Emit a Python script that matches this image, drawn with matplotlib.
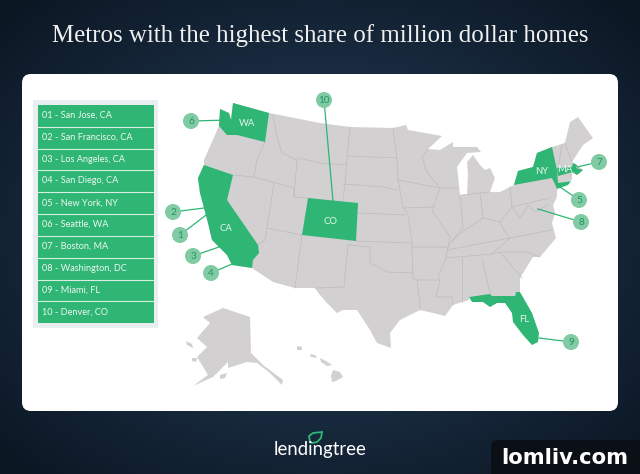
import numpy as np
import matplotlib
matplotlib.use('Agg')
import matplotlib.pyplot as plt
from matplotlib.patches import FancyBboxPatch, Rectangle, Circle

TITLE = 'Metros with the highest share of million dollar homes'
metros = ['01 - San Jose, CA', '02 - San Francisco, CA', '03 - Los Angeles, CA', '04 - San Diego, CA',
          '05 - New York, NY', '06 - Seattle, WA', '07 - Boston, MA', '08 - Washington, DC',
          '09 - Miami, FL', '10 - Denver, CO']

# map outlines (image pixels)
us_outline = [(220,109),(229,113),(231,120),(233,103),(269,113),(320,123),(350,127),(393,128),(406,125),
              (408,130),(442,136),(428,149),(440,150),(453,142),(453,147),(477,147),(481,152),(467,153),(457,167),
              (460,195),(467,195),(468,173),(467,162),(473,155),(480,165),(485,170),(490,168),(495,178),(490,192),
              (500,192),(514,185),(518,171),(533,167),(537,153),(552,147),(565,143),(570,122),(578,117),(585,127),
              (593,138),(583,145),(572,162),(577,165),(583,170),(577,175),(572,173),(572,180),(560,183),(557,188),
              (557,197),(553,205),(555,213),(552,223),(556,238),(540,257),(533,257),(520,278),(520,292),(516,292),
              (515,296),(492,296),(469,297),(469,300),(462,302),(453,305),(445,316),(433,313),(420,310),(400,320),
              (390,333),(391,348),(377,343),(370,330),(357,310),(343,310),(337,313),(327,303),(320,295),(315,288),
              (295,288),(273,282),(252,268),(232,265),(227,255),(212,240),(208,223),(200,193),(198,178),(204,165),
              (204,160),(219,126)]
alaska = [(223,308),(250,317),(251,353),(263,365),(283,380),(282,385),(270,373),(257,363),(247,362),(228,368),
          (228,362),(213,377),(193,386),(208,375),(197,357),(207,347),(197,338),(210,323),(203,317)]
ak_islands = [[(186,341),(192,344),(193,348),(187,345)], [(192,358),(197,358),(196,362),(192,361)],
              [(220,375),(227,373),(225,378),(220,379)]]
hawaii = [[(297,346),(302,347),(302,350),(297,350)], [(310,354),(315,355),(317,358),(311,357)],
          [(320,358),(326,361),(332,365),(327,366),(321,362)], [(333,370),(340,372),(343,377),(336,381),(332,382),(331,376)]]

state_borders = [
    [(273,115),(277,137),(282,153),(297,160),(294,197)],
    [(298,158),(320,163),(347,165)],
    [(265,142),(257,160),(254,177)],
    [(233,175),(254,177),(294,188)],
    [(274,183),(267,228),(265,240),(258,245)],
    [(267,228),(302,235),(295,288)],
    [(294,188),(294,197),(308,198)],
    [(350,127),(347,157),(345,183),(343,201)],
    [(347,156),(397,158)],
    [(343,184),(383,187),(397,190)],
    [(358,213),(405,215)],
    [(393,128),(397,158),(398,180),(403,207),(408,215),(412,243),(412,247),(413,278),(417,280),(420,303),(420,310)],
    [(356,241),(412,243)],
    [(348,245),(344,287),(315,288)],
    [(348,245),(370,247),(370,263),(387,272),(413,273)],
    [(417,280),(440,280),(436,297),(452,297),(453,305)],
    [(448,247),(446,258),(438,277),(440,280)],
    [(403,208),(435,207)],
    [(433,212),(450,237),(448,247),(412,247)],
    [(398,180),(440,188),(433,207),(433,212)],
    [(428,149),(422,157),(427,172),(440,188),(458,188)],
    [(460,195),(463,227),(453,240),(448,247)],
    [(462,195),(480,193),(490,192)],
    [(480,193),(483,218)],
    [(510,187),(512,207),(500,222),(497,221),(483,218),(462,232),(453,240)],
    [(447,250),(510,238),(552,230)],
    [(512,207),(550,198)],
    [(500,222),(505,232),(510,238)],
    [(512,207),(520,218),(528,205),(535,212),(548,205)],
    [(446,258),(492,254),(510,238)],
    [(492,254),(500,252),(527,252),(540,257)],
    [(500,252),(522,278)],
    [(462,258),(462,302)],
    [(482,258),(490,293)],
    [(552,178),(557,188)],
    [(562,145),(558,168)],
    [(565,143),(572,162)],
]

green_states = {
    'WA': [(220,109),(229,113),(231,120),(233,103),(269,113),(265,142),(237,135),(227,135),(219,126)],
    'CA': [(204,165),(233,175),(227,200),(258,245),(259,253),(253,260),(252,268),(232,265),(227,255),(212,240),
           (208,223),(200,193),(198,178)],
    'CO': [(308,198),(358,203),(356,241),(302,235)],
    'NY': [(514,185),(518,171),(533,167),(537,153),(552,147),(557,170),(558,183),(571,181),(568,185),(557,189),(555,184),(552,178)],
    'MA': [(557,168),(572,167),(573,163),(577,165),(576,168),(583,170),(577,175),(573,172),(558,176)],
    'FL': [(469,297),(490,294),(492,296),(515,296),(516,292),(520,292),(532,313),(539,333),(538,342),(532,345),
           (523,335),(513,322),(512,313),(505,303),(497,303),(490,307),(483,302),(472,302)],
}
state_labels = ['WA', 'CA', 'CO', 'NY', 'MA', 'FL']
state_label_x = [247, 226, 330, 542, 565, 524]
state_label_y = [123, 228, 221, 172, 170, 320]

rank = ['1', '2', '3', '4', '5', '6', '7', '8', '9', '10']
badge_x = [180, 173, 193, 211, 579, 191, 599, 581, 571, 324]
badge_y = [235, 212, 256, 273, 200, 121, 162, 222, 342, 100]
tip_x = [210, 204, 219, 232, 560, 230, 577, 538, 539, 334]
tip_y = [212, 208, 247, 264, 187, 120, 167, 209, 338, 212]

leaf = [(310,442),(309,436),(313,433),(322,432),(321,438),(317,442),(312,443)]

GREEN = '#2fb574'
LAND = '#d3d0d2'
BORDER = '#bebbbe'

fig = plt.figure(figsize=(6.4, 4.74), dpi=100)
ax = fig.add_axes([0, 0, 1, 1])
ax.axis('off')

# dark navy backdrop, lighter in the middle
xx, yy = np.meshgrid(np.linspace(-1, 1, 320), np.linspace(-1, 1, 237))
r = np.clip(np.sqrt(xx ** 2 + yy ** 2) / 1.35, 0, 1)[..., None]
inner = np.array([0x26, 0x42, 0x5e]) / 255
outer = np.array([0x0c, 0x17, 0x24]) / 255
ax.imshow(inner * (1 - r) + outer * r, extent=(0, 640, 474, 0), aspect='auto', zorder=0)

ax.text(320, 35.5, TITLE, color='#f0f0f0', fontsize=17.9, family='Liberation Serif', ha='center', va='center', zorder=2)

ax.add_patch(FancyBboxPatch((28, 80), 584, 325, boxstyle='round,pad=6,rounding_size=9', fc='white', ec='none', zorder=1))

# list of metros
ax.add_patch(Rectangle((33, 100), 125, 228, fc='#e9eef0', ec='none', zorder=2))
row_h = 21.83
ax.add_patch(Rectangle((38, 105), 116, 10 * row_h, fc=GREEN, ec='none', zorder=3))
for i, name in enumerate(metros):
    y0 = 105 + i * row_h
    if i > 0:
        ax.plot([38, 154], [y0, y0], color='#d6efe0', lw=0.8, zorder=4)
    ax.text(42, y0 + row_h / 2 - 0.5, name, color='#eef8f2', fontsize=6.6, family='Lato', va='center', zorder=4)

# map
ax.fill(*zip(*us_outline), fc=LAND, ec='none', zorder=3)
ax.fill(*zip(*alaska), fc=LAND, ec='none', zorder=3)
for part in ak_islands + hawaii:
    ax.fill(*zip(*part), fc=LAND, ec='none', zorder=3)
for line in state_borders:
    ax.plot(*zip(*line), color=BORDER, lw=0.5, zorder=4)
for st in green_states:
    ax.fill(*zip(*green_states[st]), fc=GREEN, ec='none', zorder=5)
for i, st in enumerate(state_labels):
    ax.text(state_label_x[i], state_label_y[i], st, color='#e6f6ec', fontsize=6.8, family='Lato', ha='center', va='center', zorder=6)

# numbered badges
for i in range(len(rank)):
    ax.plot([badge_x[i], tip_x[i]], [badge_y[i], tip_y[i]], color=GREEN, lw=0.9, zorder=7)
    ax.add_patch(Circle((badge_x[i], badge_y[i]), 8, fc='#80cba4', ec='none', zorder=8))
    ax.text(badge_x[i], badge_y[i] + 0.3, rank[i], color='#259460', fontsize=7.2, family='Lato', ha='center', va='center', zorder=9)

# logo
ax.fill(*zip(*leaf), fc='#16293c', ec=GREEN, lw=1.3, zorder=3)
ax.text(320, 449, 'lendingtree', color='white', fontsize=13.4, family='Lato', ha='center', va='center', zorder=3)

# site mark in the corner
ax.add_patch(FancyBboxPatch((497, 446), 150, 40, boxstyle='round,pad=6,rounding_size=7', fc='#0b0f16', ec='none', zorder=3))
ax.text(565, 458, 'lomliv.com', color='white', fontsize=15.2, fontweight='bold', family='DejaVu Sans', ha='center', va='center', zorder=4)

ax.set_xlim(0, 640)
ax.set_ylim(474, 0)
fig.savefig('out.png', dpi=100)
